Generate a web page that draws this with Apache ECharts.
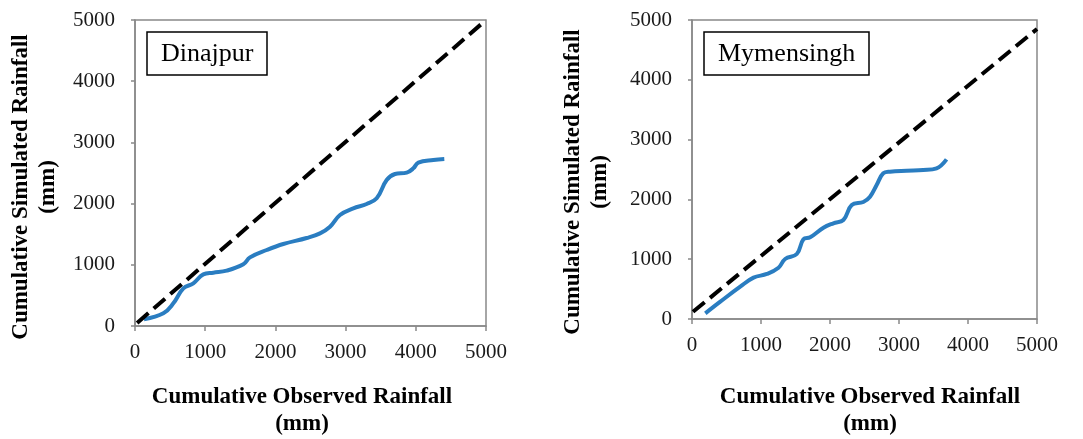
<!DOCTYPE html>
<html>
<head>
<meta charset="utf-8">
<script src="https://cdn.jsdelivr.net/npm/echarts@6/dist/echarts.min.js"></script>
<style>
html,body{margin:0;padding:0;background:#fff;}
#c{width:1083px;height:439px;}
</style>
</head>
<body>
<div id="c"></div>
<script>
// Axis ticks
var tickValues = [0, 1000, 2000, 3000, 4000, 5000];
var stations = ['Dinajpur', 'Mymensingh'];
var xTitle = 'Cumulative Observed Rainfall';
var yTitle = 'Cumulative Simulated Rainfall';
var unit = '(mm)';

// Dinajpur: cumulative observed (x) vs simulated (y)
var dinajpurObs = [128, 404, 546, 689, 831, 973, 1116, 1306, 1543, 1638, 1876, 2113, 2445, 2635, 2778, 2920, 3110, 3300, 3443, 3585, 3704, 3870, 3965, 4036, 4250, 4406];
var dinajpurSim = [109, 207, 370, 615, 697, 844, 871, 904, 1008, 1122, 1242, 1340, 1438, 1514, 1623, 1814, 1923, 1993, 2086, 2386, 2484, 2505, 2576, 2669, 2712, 2729];
var dinajpurRefX = [30, 5000];
var dinajpurRefY = [50, 5000];

// Mymensingh
var mymObs = [193, 410, 699, 892, 1085, 1254, 1350, 1519, 1615, 1712, 1905, 2049, 2194, 2315, 2483, 2580, 2676, 2772, 2869, 3110, 3351, 3544, 3689];
var mymSim = [95, 290, 541, 691, 753, 858, 1003, 1087, 1332, 1366, 1527, 1600, 1656, 1906, 1957, 2046, 2241, 2436, 2464, 2480, 2492, 2520, 2670];
var mymRefX = [15, 5000];
var mymRefY = [120, 4850];

function pairs(xs, ys) { return xs.map(function (x, i) { return [x, ys[i]]; }); }

var serif = '"Liberation Serif", "DejaVu Serif", serif';
var axisColor = '#898989';
var tickMin = tickValues[0], tickMax = tickValues[tickValues.length - 1], tickStep = tickValues[1] - tickValues[0];

function xAx(idx) {
  return {
    type: 'value', gridIndex: idx, min: tickMin, max: tickMax, interval: tickStep,
    axisLine: { show: true, lineStyle: { color: axisColor, width: 1.5 } },
    axisTick: { show: true, length: 5, lineStyle: { color: axisColor, width: 1.5 } },
    splitLine: { show: false },
    axisLabel: { margin: 16, color: '#1a1a1a', fontFamily: serif, fontSize: 21, formatter: function (v) { return String(v); } }
  };
}
function yAx(idx) {
  return {
    type: 'value', gridIndex: idx, min: tickMin, max: tickMax, interval: tickStep,
    axisLine: { show: true, lineStyle: { color: axisColor, width: 1.5 } },
    axisTick: { show: true, length: 4, lineStyle: { color: axisColor, width: 1.5 } },
    splitLine: { show: false },
    axisLabel: { margin: 20, color: '#1a1a1a', fontFamily: serif, fontSize: 21, formatter: function (v) { return String(v); } }
  };
}
function blue(idx, data) {
  return { type: 'line', xAxisIndex: idx, yAxisIndex: idx, data: data, smooth: 0.4, showSymbol: false,
    lineStyle: { color: '#2a7dc1', width: 4 }, z: 3 };
}
function dash(idx, data) {
  return { type: 'line', xAxisIndex: idx, yAxisIndex: idx, data: data, showSymbol: false,
    lineStyle: { color: '#000', width: 4, type: [15, 7] }, z: 4 };
}

var chart = echarts.init(document.getElementById('c'), null, { renderer: 'canvas' });
chart.setOption({
  animation: false,
  backgroundColor: '#fff',
  grid: [
    { left: 135, right: 597, top: 20, bottom: 113, show: true, borderColor: axisColor, borderWidth: 1.5, backgroundColor: 'transparent' },
    { left: 692, right: 46, top: 20, bottom: 120, show: true, borderColor: axisColor, borderWidth: 1.5, backgroundColor: 'transparent' }
  ],
  xAxis: [xAx(0), xAx(1)],
  yAxis: [yAx(0), yAx(1)],
  title: [
    { text: stations[0], left: 147, top: 32, padding: [9, 14, 8, 14], borderColor: '#000', borderWidth: 1.5,
      textStyle: { fontFamily: serif, fontSize: 26, fontWeight: 'normal', color: '#000' } },
    { text: stations[1], left: 704, top: 32, padding: [9, 14, 8, 14], borderColor: '#000', borderWidth: 1.5,
      textStyle: { fontFamily: serif, fontSize: 26, fontWeight: 'normal', color: '#000' } }
  ],
  graphic: [
    { type: 'text', x: 302, y: 411, style: { text: xTitle + '\n' + unit, font: 'bold 23px ' + serif, lineHeight: 27, align: 'center', verticalAlign: 'middle', fill: '#000' } },
    { type: 'text', x: 870, y: 411, style: { text: xTitle + '\n' + unit, font: 'bold 23px ' + serif, lineHeight: 27, align: 'center', verticalAlign: 'middle', fill: '#000' } },
    { type: 'text', x: 35, y: 187, rotation: Math.PI / 2, style: { text: yTitle + '\n' + unit, font: 'bold 23px ' + serif, lineHeight: 27, align: 'center', verticalAlign: 'middle', fill: '#000' } },
    { type: 'text', x: 587, y: 182, rotation: Math.PI / 2, style: { text: yTitle + '\n' + unit, font: 'bold 23px ' + serif, lineHeight: 27, align: 'center', verticalAlign: 'middle', fill: '#000' } }
  ],
  series: [
    blue(0, pairs(dinajpurObs, dinajpurSim)),
    dash(0, pairs(dinajpurRefX, dinajpurRefY)),
    blue(1, pairs(mymObs, mymSim)),
    dash(1, pairs(mymRefX, mymRefY))
  ]
});
</script>
</body>
</html>
